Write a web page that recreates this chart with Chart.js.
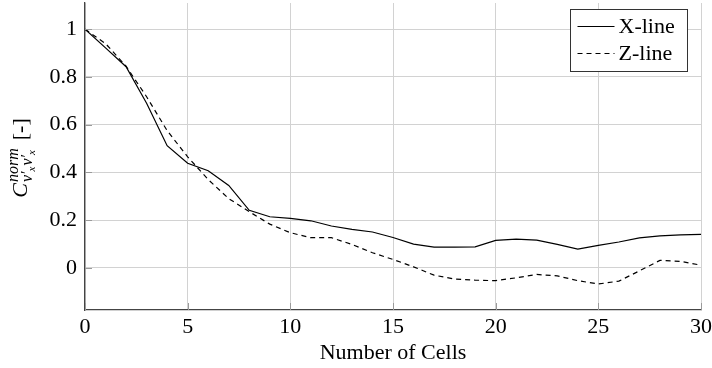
<!DOCTYPE html>
<html>
<head>
<meta charset="utf-8">
<script src="https://cdn.jsdelivr.net/npm/chart.js@4"></script>
<style>
  html, body { margin: 0; padding: 0; background: #fff; }
  #wrap { width: 712px; height: 368px; }
</style>
</head>
<body>
<div id="wrap"><canvas id="corrChart"></canvas></div>
<script>
const cells = [0, 1, 2, 3, 4, 5, 6, 7, 8, 9, 10, 11, 12, 13, 14, 15, 16, 17, 18, 19, 20, 21, 22, 23, 24, 25, 26, 27, 28, 29, 30];
const xLine = [1.0, 0.922, 0.843, 0.69, 0.512, 0.438, 0.407, 0.345, 0.241, 0.214, 0.207, 0.197, 0.175, 0.161, 0.15, 0.127, 0.099, 0.087, 0.087, 0.088, 0.115, 0.12, 0.116, 0.098, 0.078, 0.094, 0.108, 0.125, 0.134, 0.138, 0.14];
const zLine = [1.0, 0.94, 0.845, 0.717, 0.575, 0.465, 0.37, 0.29, 0.235, 0.183, 0.147, 0.126, 0.126, 0.098, 0.063, 0.035, 0.004, -0.031, -0.047, -0.052, -0.054, -0.042, -0.028, -0.034, -0.054, -0.068, -0.056, -0.013, 0.031, 0.027, 0.011];
const xTicks = [0, 5, 10, 15, 20, 25, 30];
const yTicks = [0, 0.2, 0.4, 0.6, 0.8, 1];
const seriesNames = ['X-line', 'Z-line'];

const serif = "'Liberation Serif', 'DejaVu Serif', serif";

// short inward tick marks on the left and bottom axes
const innerTicks = {
  id: 'innerTicks',
  afterDatasetsDraw(chart) {
    const { ctx, chartArea, scales } = chart;
    ctx.save();
    ctx.strokeStyle = '#9a9a9a';
    ctx.lineWidth = 1;
    ctx.beginPath();
    xTicks.forEach(v => {
      const px = Math.round(scales.x.getPixelForValue(v)) + 0.5;
      ctx.moveTo(px, chartArea.bottom);
      ctx.lineTo(px, chartArea.bottom - 7);
    });
    yTicks.forEach(v => {
      const py = Math.round(scales.y.getPixelForValue(v)) + 0.5;
      ctx.moveTo(chartArea.left, py);
      ctx.lineTo(chartArea.left + 7, py);
    });
    ctx.stroke();
    ctx.restore();
  }
};

// y axis title with sub/superscripts, drawn rotated
const yTitlePlugin = {
  id: 'yTitle',
  afterDraw(chart) {
    const ctx = chart.ctx;
    ctx.save();
    ctx.translate(27, 158);
    ctx.rotate(-Math.PI / 2);
    ctx.fillStyle = '#000';
    ctx.textBaseline = 'alphabetic';
    const big = 'italic 22px ' + serif;
    const sup = 'italic 16px ' + serif;
    const sub = 'italic 16px ' + serif;
    const subsub = 'italic 11px ' + serif;
    const plain = '22px ' + serif;

    ctx.font = big; const wC = ctx.measureText('C').width;
    ctx.font = sup; const wSup = ctx.measureText('norm').width;
    ctx.font = sub; const wV = ctx.measureText('v′').width;
    ctx.font = subsub; const wX = ctx.measureText('x').width;
    const wSub = 2 * (wV + wX + 1);
    ctx.font = plain; const wB = ctx.measureText('[-]').width;
    const gap = 8;
    const total = wC + 1 + Math.max(wSup, wSub) + gap + wB;
    let x = -total / 2;

    ctx.font = big; ctx.fillText('C', x, 0); x += wC + 1;
    ctx.font = sup; ctx.fillText('norm', x, -9);
    let sx = x;
    for (let i = 0; i < 2; i++) {
      ctx.font = sub; ctx.fillText('v′', sx, 5); sx += wV;
      ctx.font = subsub; ctx.fillText('x', sx, 8); sx += wX + 1;
    }
    x += Math.max(wSup, wSub) + gap;
    ctx.font = plain; ctx.fillText('[-]', x, 0);
    ctx.restore();
  }
};

// legend box inside the plot, top right
const legendPlugin = {
  id: 'boxLegend',
  afterDraw(chart) {
    const ctx = chart.ctx;
    const bx = 570.5, by = 9.5, bw = 117, bh = 62;
    ctx.save();
    ctx.fillStyle = '#fff';
    ctx.fillRect(bx, by, bw, bh);
    ctx.strokeStyle = '#333';
    ctx.lineWidth = 1;
    ctx.strokeRect(bx, by, bw, bh);
    chart.data.datasets.forEach((ds, i) => {
      const y = by + 17 + i * 27;
      ctx.beginPath();
      ctx.setLineDash(ds.borderDash || []);
      ctx.strokeStyle = ds.borderColor;
      ctx.lineWidth = ds.borderWidth;
      ctx.moveTo(bx + 7, y);
      ctx.lineTo(bx + 44, y);
      ctx.stroke();
      ctx.setLineDash([]);
      ctx.fillStyle = '#000';
      ctx.font = '22px ' + serif;
      ctx.textBaseline = 'middle';
      ctx.textAlign = 'left';
      ctx.fillText(ds.label, bx + 48, y + 1);
    });
    ctx.restore();
  }
};

new Chart(document.getElementById('corrChart').getContext('2d'), {
  type: 'line',
  data: {
    datasets: [
      {
        label: seriesNames[0],
        data: cells.map((c, i) => ({ x: c, y: xLine[i] })),
        borderColor: '#000',
        borderWidth: 1.2,
        pointRadius: 0,
        tension: 0,
        fill: false
      },
      {
        label: seriesNames[1],
        data: cells.map((c, i) => ({ x: c, y: zLine[i] })),
        borderColor: '#000',
        borderWidth: 1.2,
        borderDash: [5, 4],
        pointRadius: 0,
        tension: 0,
        fill: false
      }
    ]
  },
  options: {
    responsive: true,
    maintainAspectRatio: false,
    animation: false,
    layout: { padding: { left: 0, right: 11, top: 3, bottom: 0 } },
    plugins: {
      legend: { display: false },
      tooltip: { enabled: false }
    },
    scales: {
      x: {
        type: 'linear',
        min: 0,
        max: 30,
        afterBuildTicks: (s) => { s.ticks = xTicks.map(v => ({ value: v })); },
        afterFit: (s) => { s.height = 58; s.paddingLeft = 0; s.paddingRight = 0; },
        grid: { color: '#d2d2d2', lineWidth: 1, drawTicks: false },
        border: { color: '#444', width: 1.3 },
        ticks: { color: '#000', font: { family: serif, size: 22 }, padding: 4, maxRotation: 0 },
        title: {
          display: true,
          text: 'Number of Cells',
          color: '#000',
          font: { family: serif, size: 22 },
          padding: { top: 0, bottom: 2 }
        }
      },
      y: {
        min: -0.177,
        max: 1.11,
        afterBuildTicks: (s) => { s.ticks = yTicks.map(v => ({ value: v })); },
        afterFit: (s) => { s.width = 85; s.paddingTop = 0; s.paddingBottom = 0; },
        grid: { color: '#d2d2d2', lineWidth: 1, drawTicks: false },
        border: { color: '#444', width: 1.3 },
        ticks: {
          color: '#000',
          font: { family: serif, size: 22 },
          padding: 8,
          callback: (v) => String(Math.round(v * 10) / 10)
        }
      }
    }
  },
  plugins: [innerTicks, yTitlePlugin, legendPlugin]
});
</script>
</body>
</html>
